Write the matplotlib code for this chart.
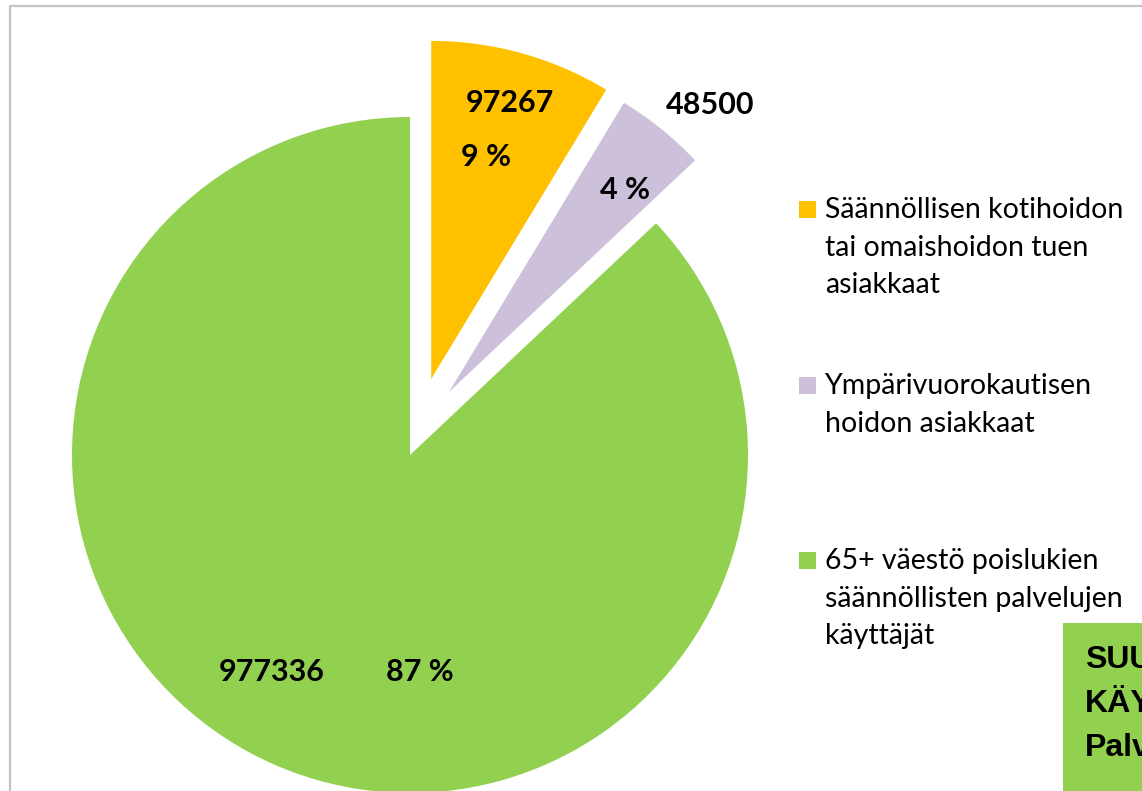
import numpy as np
import matplotlib
matplotlib.use("Agg")
import matplotlib.pyplot as plt
from matplotlib.patches import Rectangle
from matplotlib.lines import Line2D

# data
categories = ["Säännöllisen kotihoidon\ntai omaishoidon tuen\nasiakkaat",
              "Ympärivuorokautisen\nhoidon asiakkaat",
              "65+ väestö poislukien\nsäännöllisten palvelujen\nkäyttäjät"]
values = [97267, 48500, 977336]
percents = ["9 %", "4 %", "87 %"]
colors = ["#FFC000", "#CCC0DA", "#92D050"]
box_lines = ["SUU", "KÄY", "Palv"]

W, H = 1142, 791

def py(y):
    # image pixel row -> data y (y up)
    return H - y

fig = plt.figure(figsize=(W / 100, H / 100), dpi=100)
ax = fig.add_axes([0, 0, 1, 1])

wedges, _ = ax.pie(values, colors=colors, startangle=90, counterclock=False,
                   center=(410, py(455)), radius=338, explode=[79, 74, 0],
                   wedgeprops=dict(linewidth=0))
# the purple slice was pulled out a bit more upward in the original
wedges[1].set_center((449, py(392)))
ax.set_xlim(0, W)
ax.set_ylim(0, H)
ax.set_aspect("equal")
ax.axis("off")

# data labels (value, percent) positions in image pixels
value_pos = [(510, 103), (710, 105), (272, 672)]
pct_pos = [(486, 157), (625, 190), (420, 672)]
lab_font = dict(family="Lato", weight="bold", size=22, color="black",
                ha="center", va="center")
for v, p, vp, pp in zip(values, percents, value_pos, pct_pos):
    ax.text(vp[0], py(vp[1]), str(v), **lab_font)
    ax.text(pp[0], py(pp[1]), p, **lab_font)

# legend, drawn by hand
leg_y = [209, 385, 560]
for c, lab, y in zip(colors, categories, leg_y):
    ax.add_patch(Rectangle((799, py(y) - 8.5), 17, 17, facecolor=c, edgecolor="none"))
    ax.text(825, py(y) + 12, lab, family="Lato", size=20.5, color="black",
            ha="left", va="top", linespacing=1.55)

# green box bottom right
ax.add_patch(Rectangle((1063, 0), 100, py(623), facecolor="#92D050",
                       edgecolor="none", clip_on=False))
ax.text(1085, py(645), "\n".join(box_lines), family="Liberation Sans",
        weight="bold", size=23, color="black", ha="left", va="top",
        linespacing=1.6)

# chart frame (top and left edges visible)
ax.add_line(Line2D([10, 10, W], [0, py(6), py(6)], color="#C4C4C4", lw=1.6))

fig.savefig("out.png", dpi=100)
